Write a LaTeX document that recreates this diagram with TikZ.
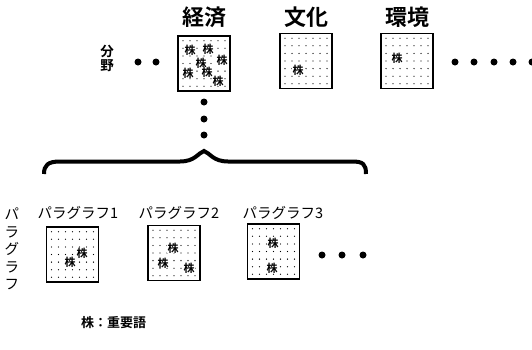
\documentclass[tikz,border=0pt]{standalone}
\usepackage{fontspec}
\newfontfamily\jp{Noto Sans CJK JP}
\newfontfamily\jpb{Noto Sans CJK JP Bold}
\begin{document}
\begin{tikzpicture}[x=1pt,y=-1pt,
  head/.style={font=\jpb\fontsize{22}{24}\selectfont, inner sep=0pt},
  plabel/.style={font=\jp\fontsize{14.5}{16}\selectfont, inner sep=0pt},
  dbox/.style={draw, line width=1.3pt, minimum width=52pt, minimum height=55pt, inner sep=0pt},
  kabu/.style={font=\jpb\fontsize{11}{12}\selectfont, inner sep=0.2pt, fill=white},
  bigdot/.style={fill=black, circle, minimum size=7pt, inner sep=0pt},
  brace/.style={line width=4pt}
]
\useasboundingbox (0,0) rectangle (532,349);

% ---- top row ----
\node[head] (hEcon) at (204,17) {経済};
\node[head] (hCult) at (306,17) {文化};
\node[head] (hEnv)  at (407,17) {環境};

\node[dbox] (bEcon) at (204,63.5) {};
\node[dbox] (bCult) at (306,61) {};
\node[dbox] (bEnv)  at (407,61) {};

\foreach \b in {bEcon,bCult,bEnv}{
  \begin{scope}[shift={(\b.center)}]
    \foreach \i in {-3,...,3}
      \foreach \j in {-3,...,3}
        \fill ({\i*7},{\j*7.6}) circle (0.65);
  \end{scope}
}

\node[kabu] (k1) at (190,50) {株};
\node[kabu] (k2) at (208,49) {株};
\node[kabu] (k3) at (201,63) {株};
\node[kabu] (k4) at (222,60) {株};
\node[kabu] (k5) at (188,73) {株};
\node[kabu] (k6) at (207,72) {株};
\node[kabu] (k7) at (218,81) {株};
\node[kabu] (k8) at (298,70) {株};
\node[kabu] (k9) at (397,58) {株};

\node[font=\jpb\fontsize{13.5}{15}\selectfont, align=center, inner sep=0pt] (bunya) at (107,58) {分\\[-1pt]野};
\node[bigdot] (d1) at (138,62) {};
\node[bigdot] (d2) at (156,62) {};

\node[bigdot] (r1) at (455,62) {};
\node[bigdot] (r2) at (474,62) {};
\node[bigdot] (r3) at (494,62) {};
\node[bigdot] (r4) at (513,62) {};
\node[bigdot] (r5) at (532,62) {};

\node[bigdot] (v1) at (204,102) {};
\node[bigdot] (v2) at (204,119) {};
\node[bigdot] (v3) at (204,135) {};

% ---- brace ----
\draw[brace] (44,174) .. controls (44,165) and (48,161.5) .. (60,161.5)
  -- (180,161.5) .. controls (195,161.5) and (198,153) .. (204,151)
  .. controls (210,153) and (213,161.5) .. (228,161.5)
  -- (352,161.5) .. controls (363,161.5) and (366,164) .. (366,174);

% ---- paragraph row ----
\node[font=\jp\fontsize{14.5}{17.5}\selectfont, align=center, inner sep=0pt] (vpara) at (12,249) {パ\\ラ\\グ\\ラ\\フ};
\node[plabel] (p1) at (78,213) {パラグラフ1};
\node[plabel] (p2) at (179,213) {パラグラフ2};
\node[plabel] (p3) at (283,213) {パラグラフ3};

\node[dbox] (bp1) at (72.5,254.5) {};
\node[dbox] (bp2) at (174,253) {};
\node[dbox] (bp3) at (273.5,251.5) {};

\foreach \b in {bp1,bp2,bp3}{
  \begin{scope}[shift={(\b.center)}]
    \foreach \i in {-3,...,3}
      \foreach \j in {-3,...,3}
        \fill ({\i*7},{\j*7.6}) circle (0.65);
  \end{scope}
}

\node[kabu] (q1) at (70,262) {株};
\node[kabu] (q2) at (82,253) {株};
\node[kabu] (q3) at (173,248) {株};
\node[kabu] (q4) at (163,263) {株};
\node[kabu] (q5) at (189,268) {株};
\node[kabu] (q6) at (273,243) {株};
\node[kabu] (q7) at (272,268) {株};

\node[bigdot] (e1) at (322,255) {};
\node[bigdot] (e2) at (342,255) {};
\node[bigdot] (e3) at (363,255) {};

% ---- legend ----
\node[font=\jpb\fontsize{13}{14}\selectfont, inner sep=0pt, anchor=west] (legend) at (81,323) {株：重要語};
\end{tikzpicture}
\end{document}
